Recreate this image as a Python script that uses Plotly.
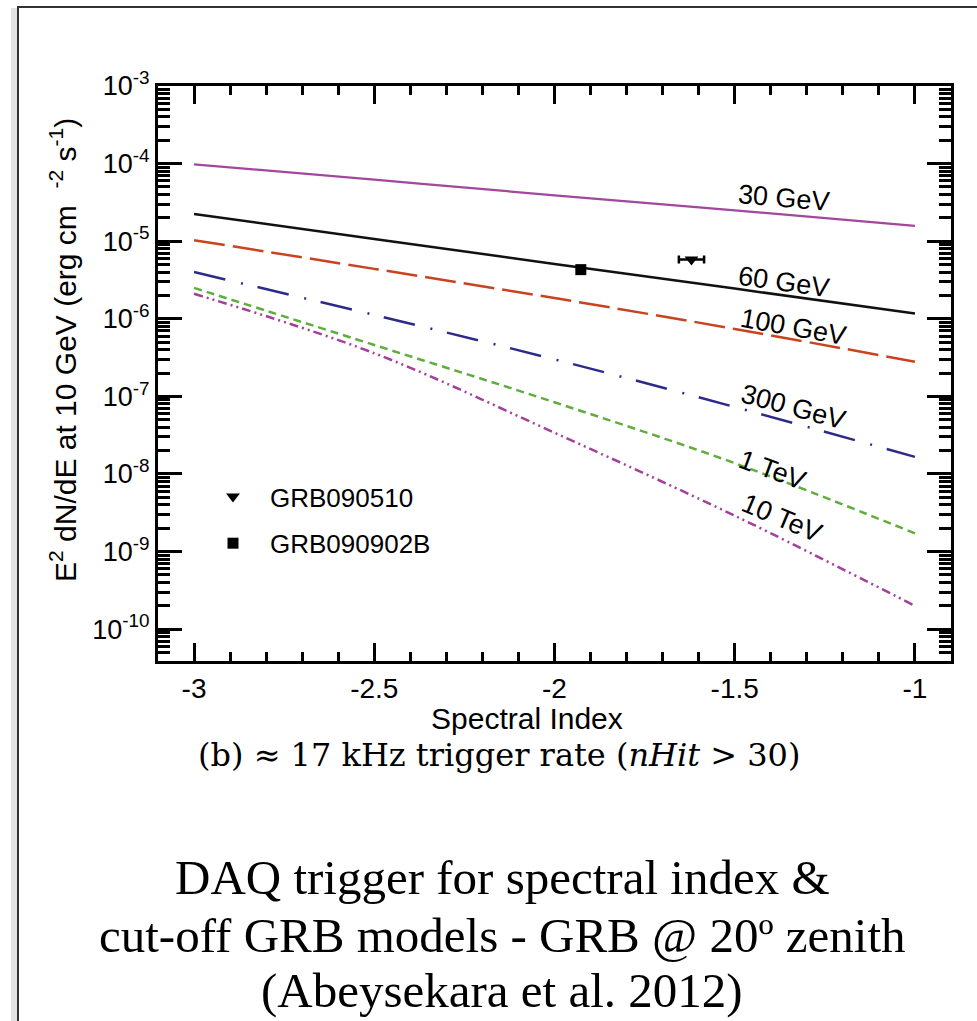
import plotly.graph_objects as go

# Spectral index grid on which the trigger sensitivity curves are given
spectral_index = [-3.0, -2.5, -2.0, -1.5, -1.0]

# E^2 dN/dE at 10 GeV (erg cm^-2 s^-1) needed to trigger, per cut-off energy
flux_30gev = [9.8e-5, 6.2e-5, 3.9e-5, 2.5e-5, 1.58e-5]
flux_60gev = [2.24e-5, 1.07e-5, 5.1e-6, 2.45e-6, 1.17e-6]
flux_100gev = [1.03e-5, 4.4e-6, 1.85e-6, 7.4e-7, 2.8e-7]
flux_300gev = [4.0e-6, 1.12e-6, 3.0e-7, 7.3e-8, 1.66e-8]
flux_1tev = [2.5e-6, 4.6e-7, 8.4e-8, 1.38e-8, 1.72e-9]
flux_10tev = [2.1e-6, 3.6e-7, 3.4e-8, 2.9e-9, 2.0e-10]

curve_labels = ["30 GeV", "60 GeV", "100 GeV", "300 GeV", "1 TeV", "10 TeV"]

# Observed bursts
grb_names = ["GRB090510", "GRB090902B"]
grb_index = [-1.62, -1.927]
grb_index_err = [0.035, 0.0]
grb_flux = [5.8e-6, 4.3e-6]

# Tick labels
x_tick_vals = [-3.0, -2.5, -2.0, -1.5, -1.0]
x_tick_text = ["-3", "-2.5", "-2", "-1.5", "-1"]
y_exponents = [-10, -9, -8, -7, -6, -5, -4, -3]

W, H = 977, 1021
L, R, T, B = 158, 951, 86, 661  # plot-area edges in pixels


def px(xp):
    return (xp - L) / (R - L)


def py(yp):
    return (B - yp) / (B - T)


SANS = "Liberation Sans, Arial, sans-serif"
SERIF = "Liberation Serif, Times New Roman, serif"
CM_LIKE = "DejaVu Serif, serif"

fig = go.Figure()

curves = [
    (flux_30gev, "#a3479d", "solid", 2.2),
    (flux_60gev, "#111111", "solid", 2.5),
    (flux_100gev, "#c9431f", "31px,8px", 2.5),
    (flux_300gev, "#2d2a8a", "32px,16px,2px,15px", 2.5),
    (flux_1tev, "#5fae3d", "8px,5px", 2.5),
    (flux_10tev, "#a3409b", "9px,4px,2px,4px,2px,4px", 2.5),
]
for (ys, color, dash, width), name in zip(curves, curve_labels):
    fig.add_trace(go.Scatter(
        x=spectral_index, y=ys, mode="lines", name=name, showlegend=False,
        line=dict(color=color, dash=dash, width=width, shape="spline", smoothing=1.0),
        hoverinfo="skip",
    ))

fig.add_trace(go.Scatter(
    x=[grb_index[0]], y=[grb_flux[0]], mode="markers", name=grb_names[0],
    legendgroup="a",
    marker=dict(symbol="triangle-down", size=12, color="black"),
    error_x=dict(type="data", array=[grb_index_err[0]], color="black",
                 thickness=2.5, width=4),
))
fig.add_trace(go.Scatter(
    x=[grb_index[1]], y=[grb_flux[1]], mode="markers", name=grb_names[1],
    legendgroup="b",
    marker=dict(symbol="square", size=11, color="black"),
))

# Curve labels, rotated along the lines
label_pos = [
    (-1.362, -4.444, 5),
    (-1.362, -5.523, 8),
    (-1.337, -6.103, 10),
    (-1.337, -7.134, 15),
    (-1.395, -7.950, 20),
    (-1.370, -8.569, 23),
]
for name, (lx, ly, ang) in zip(curve_labels, label_pos):
    fig.add_annotation(x=lx, y=ly, xref="x", yref="y", text=name, showarrow=False,
                       xanchor="center", yanchor="middle",
                       textangle=ang, font=dict(family=SANS, size=27, color="black"))

minor_y = [k * 10.0 ** e for e in range(-11, -3) for k in range(2, 10)]
minor_x = [round(-3.1 + 0.1 * i, 2) for i in range(23)]

fig.update_xaxes(
    range=[-3.1, -0.9], showgrid=False, zeroline=False,
    showline=True, linecolor="black", linewidth=3, mirror="ticks",
    ticks="inside", ticklen=18, tickwidth=2.5, tickcolor="black",
    tickmode="array", tickvals=x_tick_vals, ticktext=x_tick_text,
    tickfont=dict(family=SANS, size=28, color="black"),
    minor=dict(tickmode="array", tickvals=minor_x, ticks="inside", ticklen=9,
               tickwidth=2.5, tickcolor="black", showgrid=False),
)
fig.update_yaxes(
    type="log", range=[-10.41, -3], showgrid=False, zeroline=False,
    showline=True, linecolor="black", linewidth=3, mirror="ticks",
    ticks="inside", ticklen=24, tickwidth=2.5, tickcolor="black",
    tickmode="array", tickvals=[10.0 ** e for e in y_exponents],
    ticktext=["10<sup>%d</sup>" % e for e in y_exponents],
    tickfont=dict(family=SANS, size=27, color="black"),
    minor=dict(tickmode="array", tickvals=minor_y, ticks="inside", ticklen=12,
               tickwidth=2.5, tickcolor="black", showgrid=False),
)


def paper_text(x, y, text, family, size, angle=0):
    fig.add_annotation(x=px(x), y=py(y), xref="paper", yref="paper", showarrow=False,
                       xanchor="center", yanchor="middle", textangle=angle,
                       text=text, font=dict(family=family, size=size, color="black"))


# Axis titles and captions
paper_text(63, 350,
           "E<sup>2</sup> dN/dE at 10 GeV (erg cm  <sup>-2</sup> s<sup>-1</sup>)",
           SANS, 30, angle=-90)
paper_text(527, 718, "Spectral Index", SANS, 30)
paper_text(499, 755, "(b) \u2248 17 kHz trigger rate (<i>nHit</i> > 30)", CM_LIKE, 32)
for txt, yy in [("DAQ trigger for spectral index &", 877),
                ("cut-off GRB models - GRB @ 20\u00ba zenith", 935),
                ("(Abeysekara et al. 2012)", 990)]:
    paper_text(502, yy, txt, SERIF, 49)

# Slide frame with a soft shadow on its left edge
fig.add_shape(type="line", xref="paper", yref="paper", x0=px(14), x1=px(14),
              y0=py(8), y1=py(1030), line=dict(color="#e2e2e2", width=6), layer="below")
fig.add_shape(type="line", xref="paper", yref="paper", x0=px(18), x1=px(18),
              y0=py(7), y1=py(1030), line=dict(color="#333333", width=2))
fig.add_shape(type="line", xref="paper", yref="paper", x0=px(17), x1=px(990),
              y0=py(7), y1=py(7), line=dict(color="#333333", width=2))

fig.update_layout(
    width=W, height=H, autosize=False,
    margin=dict(l=L, r=W - R, t=T, b=H - B),
    paper_bgcolor="white", plot_bgcolor="white",
    showlegend=True,
    legend=dict(x=px(196), y=py(473), xanchor="left", yanchor="top",
                bgcolor="rgba(0,0,0,0)", borderwidth=0, tracegroupgap=10,
                itemwidth=64,
                font=dict(family=SANS, size=26, color="black")),
)

fig.write_html("out.html")
